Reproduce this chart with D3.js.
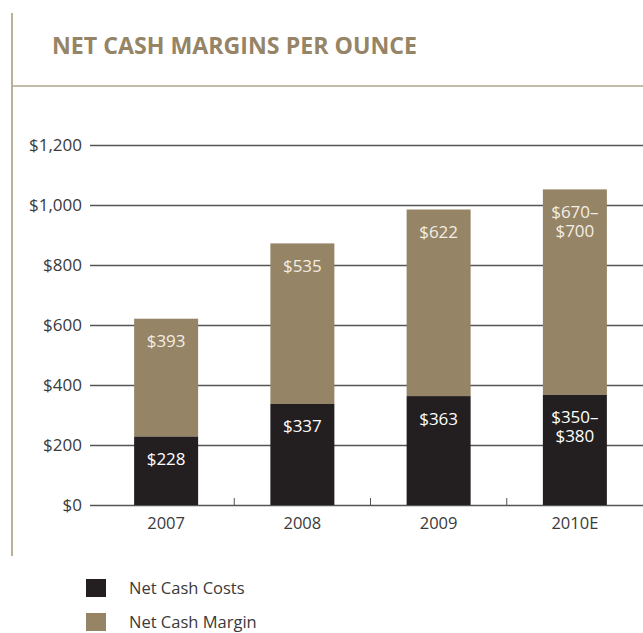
<!DOCTYPE html>
<html>
<head>
<meta charset="utf-8">
<script src="https://cdn.jsdelivr.net/npm/d3@7"></script>
<style>
  body { margin: 0; background: #fff; }
  text { font-family: "Open Sans", "Noto Sans", sans-serif; }
</style>
</head>
<body>
<div id="chart"></div>
<script>
const years = ['2007', '2008', '2009', '2010E'];
const costs = [228, 337, 363, 367];
const margins = [393, 535, 622, 685];
const costLabels = [['$228'], ['$337'], ['$363'], ['$350–', '$380']];
const marginLabels = [['$393'], ['$535'], ['$622'], ['$670–', '$700']];
const yTicks = [0, 200, 400, 600, 800, 1000, 1200];
const legendItems = ['Net Cash Costs', 'Net Cash Margin'];

const width = 643;
const height = 633;
const dark = '#231f20';
const tan = '#958465';
const gold = '#958465';

const svg = d3
  .select('#chart')
  .append('svg')
  .attr('width', width)
  .attr('height', height);

// frame lines
svg.append('line')
  .attr('x1', 12).attr('x2', 12).attr('y1', 13).attr('y2', 556)
  .attr('stroke', '#a39474').attr('stroke-width', 1.5);
svg.append('line')
  .attr('x1', 12).attr('x2', width).attr('y1', 86).attr('y2', 86)
  .attr('stroke', '#b2a68e').attr('stroke-width', 1.5);

const title = svg.append('text')
  .attr('x', 52).attr('y', 54)
  .attr('fill', gold)
  .attr('font-size', 23)
  .attr('font-weight', 700)
  .text('NET CASH MARGINS PER OUNCE');
title.attr('textLength', 365).attr('lengthAdjust', 'spacingAndGlyphs');

const x = d3.scaleBand().domain(years).range([98, 643]);
const y = d3.scaleLinear().domain([0, 1200]).range([505, 145]);
const barW = 64;
const cx = (d) => x(d) + x.bandwidth() / 2;

// gridlines + y labels
const yAxis = d3.axisLeft(y)
  .tickValues(yTicks)
  .tickSize(0)
  .tickPadding(8)
  .tickFormat((d) => '$' + d3.format(',')(d));
const gy = svg.append('g').attr('transform', 'translate(90,0)').call(yAxis);
gy.select('.domain').remove();
gy.selectAll('text')
  .attr('font-size', 17)
  .attr('fill', '#3a3a3a')
  .style('font-family', '"Open Sans", sans-serif');
gy.selectAll('.tick')
  .append('line')
  .attr('x1', 0).attr('x2', width - 90)
  .attr('stroke', '#555').attr('stroke-width', 1.3);

// category separators
svg.append('g')
  .selectAll('line')
  .data(years.slice(1))
  .join('line')
  .attr('x1', (d) => x(d)).attr('x2', (d) => x(d))
  .attr('y1', y(0) - 7).attr('y2', y(0))
  .attr('stroke', '#555').attr('stroke-width', 1);

// bars
const rows = years.map((yr, i) => ({ yr, cost: costs[i], margin: margins[i], i }));

svg.append('g')
  .selectAll('rect')
  .data(rows)
  .join('rect')
  .attr('x', (d) => cx(d.yr) - barW / 2)
  .attr('width', barW)
  .attr('y', (d) => y(d.cost + d.margin))
  .attr('height', (d) => y(d.cost) - y(d.cost + d.margin))
  .attr('fill', tan);

svg.append('g')
  .selectAll('rect')
  .data(rows)
  .join('rect')
  .attr('x', (d) => cx(d.yr) - barW / 2)
  .attr('width', barW)
  .attr('y', (d) => y(d.cost))
  .attr('height', (d) => y(0) - y(d.cost))
  .attr('fill', dark);

// value labels
function addLabels(lines, top, fill, weight) {
  rows.forEach((d, i) => {
    lines[i].forEach((s, k) => {
      svg.append('text')
        .attr('text-anchor', 'middle')
        .attr('font-size', 17)
        .attr('font-weight', weight)
        .attr('fill', fill)
        .attr('x', cx(d.yr))
        .attr('y', top(d) + 28.5 + k * 19)
        .text(s);
    });
  });
}
addLabels(marginLabels, (d) => y(d.cost + d.margin), '#f3eee4', 400);
addLabels(costLabels, (d) => y(d.cost), '#ffffff', 500);

// x labels
svg.append('g')
  .selectAll('text')
  .data(years)
  .join('text')
  .attr('x', (d) => cx(d))
  .attr('y', 529)
  .attr('text-anchor', 'middle')
  .attr('font-size', 16.5)
  .attr('fill', '#3a3a3a')
  .text((d) => d);

// legend
const legend = svg.append('g')
  .selectAll('g')
  .data(legendItems)
  .join('g')
  .attr('transform', (d, i) => `translate(86,${579 + i * 34})`);
legend.append('rect')
  .attr('width', 20).attr('height', 18)
  .attr('fill', (d, i) => (i === 0 ? dark : tan));
legend.append('text')
  .attr('x', 43).attr('y', 14.5)
  .attr('font-size', 16.5)
  .attr('fill', '#3a3a3a')
  .text((d) => d);
</script>
</body>
</html>
